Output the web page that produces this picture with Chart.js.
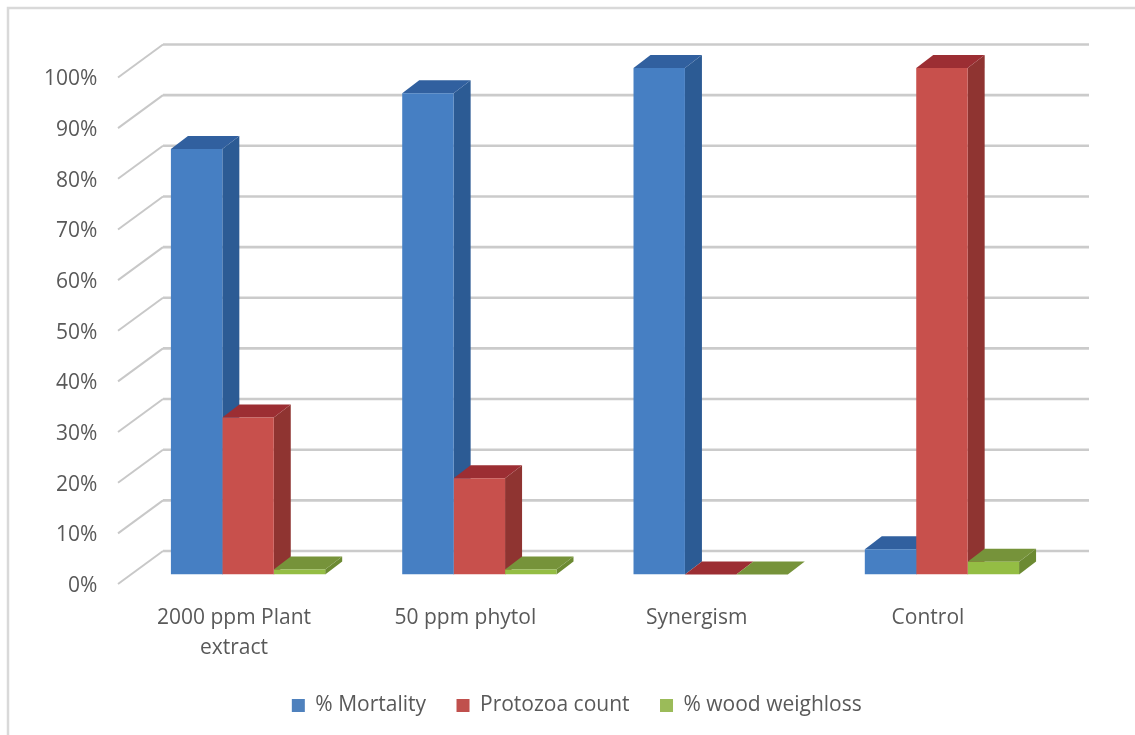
<!DOCTYPE html>
<html>
<head>
<meta charset="utf-8">
<style>
  html, body { margin: 0; padding: 0; background: #fff; }
  #wrap { position: relative; width: 1135px; height: 735px; }
</style>
<script src="https://cdn.jsdelivr.net/npm/chart.js@4/dist/chart.umd.min.js"></script>
</head>
<body>
<div id="wrap"><canvas id="c"></canvas></div>
<script>
const categories = [["2000 ppm Plant", "extract"], "50 ppm phytol", "Synergism", "Control"];
const mortality = [84, 95, 100, 5];
const protozoa = [31, 19, 0, 100];
const woodLoss = [1, 1, 0, 2.5];
const seriesNames = ["% Mortality", "Protozoa count", "% wood weighloss"];

const frontColors = ["#467fc3", "#c8504c", "#94bd44"];
const sideColors = ["#2c5b94", "#8f3431", "#6c8a32"];
const topColors = ["#31609f", "#9c2e33", "#76933a"];
const legendColors = ["#4f81bd", "#c0504d", "#9bbb59"];

const FONT = "'Open Sans', sans-serif";
const TEXT = "#595959";

// Depth of the extruded bars, and of the side wall that carries the gridlines.
const barDepth = { dx: 17, dy: -13 };
const wall = { front: 118, back: 163, right: 1089, frontDy: 9.5, backDy: -23.5 };
const legendShift = 28;

function poly(ctx, pts, fill) {
  ctx.beginPath();
  pts.forEach((p, i) => i ? ctx.lineTo(p[0], p[1]) : ctx.moveTo(p[0], p[1]));
  ctx.closePath();
  ctx.fillStyle = fill;
  ctx.fill();
}

const pseudo3d = {
  id: "pseudo3d",
  afterLayout(chart) {
    // The legend sits right of the canvas centre, under the plot.
    chart.legend.left += legendShift;
    chart.legend.right += legendShift;
  },
  beforeDraw(chart) {
    // Chart frame: only the top and left edges are ruled.
    const { ctx } = chart;
    ctx.save();
    ctx.strokeStyle = "#d9d9d9";
    ctx.lineWidth = 2.5;
    ctx.beginPath();
    ctx.moveTo(8, 735);
    ctx.lineTo(8, 8);
    ctx.lineTo(1135, 8);
    ctx.stroke();
    ctx.restore();
  },
  beforeDatasetsDraw(chart) {
    const { ctx } = chart;
    const y = chart.scales.y;
    ctx.save();
    // Gridlines run along the side wall, then across the back wall.
    y.ticks.forEach(t => {
      const p = y.getPixelForValue(t.value);
      ctx.strokeStyle = "#c8c8c8";
      ctx.lineWidth = 2;
      ctx.beginPath();
      ctx.moveTo(wall.front, p + wall.frontDy);
      ctx.lineTo(wall.back, p + wall.backDy);
      ctx.stroke();
      ctx.strokeStyle = "#cbcbcb";
      ctx.lineWidth = 2.6;
      ctx.beginPath();
      ctx.moveTo(wall.back, p + wall.backDy);
      ctx.lineTo(wall.right, p + wall.backDy);
      ctx.stroke();
    });
    // Top and side faces; the front faces are the chart's own bars.
    const { dx, dy } = barDepth;
    chart.data.datasets.forEach((ds, d) => {
      chart.getDatasetMeta(d).data.forEach(el => {
        const l = el.x - el.width / 2, r = el.x + el.width / 2;
        const t = el.y, b = el.base;
        poly(ctx, [[r, t], [r + dx, t + dy], [r + dx, b + dy], [r, b]], sideColors[d]);
        poly(ctx, [[l, t], [l + dx, t + dy], [r + dx, t + dy], [r, t]], topColors[d]);
      });
    });
    ctx.restore();
  }
};

new Chart(document.getElementById("c"), {
  type: "bar",
  data: {
    labels: categories,
    datasets: [
      { label: seriesNames[0], data: mortality, backgroundColor: frontColors[0] },
      { label: seriesNames[1], data: protozoa, backgroundColor: frontColors[1] },
      { label: seriesNames[2], data: woodLoss, backgroundColor: frontColors[2] }
    ]
  },
  plugins: [pseudo3d],
  options: {
    responsive: true,
    maintainAspectRatio: false,
    animation: false,
    layout: { padding: { left: 40, right: 77.4, top: 68, bottom: 9 } },
    datasets: { bar: { barPercentage: 1, categoryPercentage: 0.667, borderWidth: 0 } },
    scales: {
      x: {
        grid: { display: false, drawTicks: false },
        border: { display: false },
        afterFit(s) { s.height = 90; },
        ticks: {
          color: TEXT,
          font: { family: FONT, size: 21, lineHeight: 1.43 },
          padding: 28.5,
          labelOffset: -14,
          maxRotation: 0,
          autoSkip: false
        }
      },
      y: {
        min: 0,
        max: 100,
        grid: { display: false, drawTicks: false },
        border: { display: false },
        afterFit(s) { s.width = 92.4; },
        ticks: {
          stepSize: 10,
          color: TEXT,
          font: { family: FONT, size: 21 },
          padding: 35,
          labelOffset: 11.5,
          callback: v => v + "%"
        }
      }
    },
    plugins: {
      tooltip: { enabled: false },
      legend: {
        position: "bottom",
        labels: {
          color: TEXT,
          font: { family: FONT, size: 21 },
          boxWidth: 13,
          boxHeight: 13,
          padding: 30.5,
          generateLabels: () => seriesNames.map((n, i) => ({
            text: n, fillStyle: legendColors[i], strokeStyle: legendColors[i], lineWidth: 0, datasetIndex: i, fontColor: TEXT
          }))
        }
      }
    }
  }
});
</script>
</body>
</html>
